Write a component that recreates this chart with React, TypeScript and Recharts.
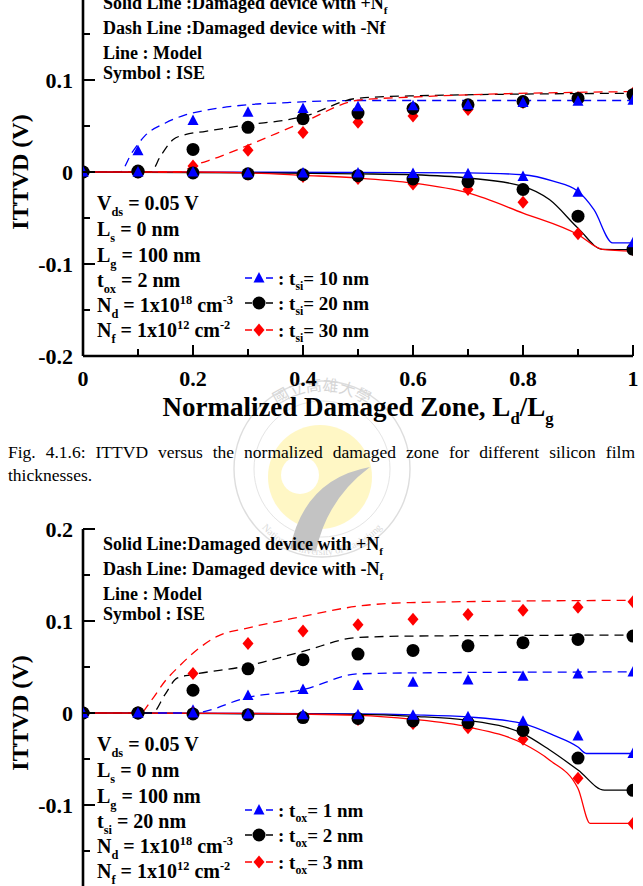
import React from 'react';
import { ComposedChart, Line, Scatter, XAxis, YAxis } from 'recharts';

const FONT = "'Liberation Serif', 'Times New Roman', Times, serif";
const BLUE = '#0000ff';
const RED = '#ff0000';
const BLACK = '#000000';

// normalized damaged zone Ld/Lg where the ISE points were taken
const ZONE = [0, 0.1, 0.2, 0.3, 0.4, 0.5, 0.6, 0.7, 0.8, 0.9, 1];
const X_TICKS = [0, 0.1, 0.2, 0.3, 0.4, 0.5, 0.6, 0.7, 0.8, 0.9, 1];
const Y_TICKS = [-0.2, -0.15, -0.1, -0.05, 0, 0.05, 0.1, 0.15, 0.2];

type Pt = [number, number];

// ---- silicon film thickness (tsi = 10 / 20 / 30 nm) ----
const TSI_LABELS = ['10', '20', '30'];

const TSI10_NEG_ISE = [0, 0.023, 0.056, 0.065, 0.069, 0.071, 0.072, 0.073, 0.0755, 0.077, 0.078];
const TSI20_NEG_ISE = [0, 0.001, 0.0245, 0.0486, 0.058, 0.064, 0.069, 0.073, 0.0766, 0.08, 0.084];
const TSI30_NEG_ISE = [0, 0, 0.0065, 0.0237, 0.043, 0.054, 0.061, 0.068, 0.0755, 0.081, 0.0856];

const TSI10_POS_ISE = [0, 0, 0, -0.001, -0.001, -0.001, -0.0015, -0.002, -0.005, -0.022, -0.077];
const TSI20_POS_ISE = [0, 0, -0.001, -0.002, -0.003, -0.004, -0.0076, -0.0105, -0.019, -0.048, -0.084];
const TSI30_POS_ISE = [0, 0, 0, -0.0025, -0.005, -0.007, -0.013, -0.019, -0.033, -0.067, -0.0845];

const TSI10_NEG_MODEL: Pt[] = [[0, 0], [0.067, 0], [0.089, 0.021], [0.112, 0.039], [0.149, 0.053], [0.186, 0.062], [0.223, 0.067], [0.297, 0.073], [0.372, 0.0755], [0.446, 0.0773], [0.5, 0.0777], [1, 0.0777]];
const TSI20_NEG_MODEL: Pt[] = [[0, 0], [0.123, 0], [0.141, 0.0173], [0.164, 0.0353], [0.186, 0.0406], [0.223, 0.0442], [0.3, 0.0514], [0.372, 0.0568], [0.401, 0.0604], [0.498, 0.08], [0.595, 0.0827], [1, 0.0856]];
const TSI30_NEG_MODEL: Pt[] = [[0, 0], [0.175, 0], [0.2, 0.0065], [0.25, 0.017], [0.3, 0.029], [0.4, 0.054], [0.5, 0.078], [0.6, 0.0815], [1, 0.0874]];

const TSI10_POS_MODEL: Pt[] = [[0, 0], [0.5, -0.0005], [0.7, -0.001], [0.8, -0.003], [0.855, -0.01], [0.9, -0.021], [0.929, -0.041], [0.963, -0.077], [1, -0.077]];
const TSI20_POS_MODEL: Pt[] = [[0, 0], [0.3, -0.001], [0.5, -0.002], [0.6, -0.003], [0.7, -0.0065], [0.8, -0.0156], [0.848, -0.03], [0.9, -0.061], [0.944, -0.084], [1, -0.0844]];
const TSI30_POS_MODEL: Pt[] = [[0, 0], [0.2, 0], [0.3, -0.001], [0.4, -0.0036], [0.5, -0.0065], [0.6, -0.012], [0.7, -0.0228], [0.8, -0.0446], [0.9, -0.068], [0.944, -0.084], [1, -0.086]];

// ---- oxide thickness (tox = 1 / 2 / 3 nm) ----
const TOX_LABELS = ['1', '2', '3'];

const TOX1_NEG_ISE = [0, 0, 0.003, 0.019, 0.0255, 0.03, 0.0335, 0.036, 0.04, 0.0425, 0.0447];
const TOX2_NEG_ISE = [0, 0, 0.0247, 0.048, 0.058, 0.064, 0.068, 0.073, 0.0764, 0.08, 0.0836];
const TOX3_NEG_ISE = [0, 0, 0.043, 0.0756, 0.089, 0.096, 0.102, 0.107, 0.1116, 0.115, 0.121];

const TOX1_POS_ISE = [0, 0, 0, -0.001, -0.002, -0.002, -0.0025, -0.004, -0.009, -0.025, -0.044];
const TOX2_POS_ISE = [0, 0, -0.001, -0.002, -0.005, -0.006, -0.0087, -0.0105, -0.019, -0.049, -0.084];
const TOX3_POS_ISE = [0, 0, 0, -0.002, -0.004, -0.007, -0.0115, -0.016, -0.0285, -0.071, -0.12];

const TOX1_NEG_MODEL: Pt[] = [[0, 0], [0.2, 0], [0.3, 0.017], [0.4, 0.0255], [0.5, 0.0425], [0.6, 0.0436], [1, 0.0447]];
const TOX2_NEG_MODEL: Pt[] = [[0, 0], [0.126, 0], [0.149, 0.02], [0.171, 0.038], [0.2, 0.0418], [0.297, 0.051], [0.4, 0.067], [0.498, 0.082], [0.595, 0.0836], [1, 0.0847]];
const TOX3_NEG_MODEL: Pt[] = [[0, 0], [0.104, 0], [0.123, 0.0127], [0.149, 0.0345], [0.178, 0.0527], [0.208, 0.069], [0.245, 0.0836], [0.297, 0.092], [0.4, 0.105], [0.498, 0.116], [0.595, 0.12], [1, 0.1225]];

const TOX1_POS_MODEL: Pt[] = [[0, 0], [0.5, -0.001], [0.6, -0.002], [0.7, -0.0043], [0.8, -0.0116], [0.855, -0.024], [0.9, -0.037], [0.915, -0.044], [1, -0.044]];
const TOX2_POS_MODEL: Pt[] = [[0, 0], [0.5, -0.0015], [0.6, -0.0036], [0.7, -0.008], [0.8, -0.0224], [0.848, -0.04], [0.9, -0.062], [0.948, -0.0838], [1, -0.0838]];
const TOX3_POS_MODEL: Pt[] = [[0, 0], [0.3, -0.0005], [0.5, -0.0025], [0.6, -0.0069], [0.7, -0.0152], [0.8, -0.0332], [0.848, -0.051], [0.9, -0.082], [0.922, -0.12], [1, -0.12]];

type MarkerKind = 'triangle' | 'circle' | 'diamond';

interface Series {
  color: string;
  marker: MarkerKind;
  negIse: number[];
  posIse: number[];
  negModel: Pt[];
  posModel: Pt[];
}

const TSI_SERIES: Series[] = [
  { color: BLUE, marker: 'triangle', negIse: TSI10_NEG_ISE, posIse: TSI10_POS_ISE, negModel: TSI10_NEG_MODEL, posModel: TSI10_POS_MODEL },
  { color: BLACK, marker: 'circle', negIse: TSI20_NEG_ISE, posIse: TSI20_POS_ISE, negModel: TSI20_NEG_MODEL, posModel: TSI20_POS_MODEL },
  { color: RED, marker: 'diamond', negIse: TSI30_NEG_ISE, posIse: TSI30_POS_ISE, negModel: TSI30_NEG_MODEL, posModel: TSI30_POS_MODEL },
];

const TOX_SERIES: Series[] = [
  { color: BLUE, marker: 'triangle', negIse: TOX1_NEG_ISE, posIse: TOX1_POS_ISE, negModel: TOX1_NEG_MODEL, posModel: TOX1_POS_MODEL },
  { color: BLACK, marker: 'circle', negIse: TOX2_NEG_ISE, posIse: TOX2_POS_ISE, negModel: TOX2_NEG_MODEL, posModel: TOX2_POS_MODEL },
  { color: RED, marker: 'diamond', negIse: TOX3_NEG_ISE, posIse: TOX3_POS_ISE, negModel: TOX3_NEG_MODEL, posModel: TOX3_POS_MODEL },
];

// plot geometry (page pixels)
const PAGE_W = 643;
const PAGE_H = 886;
const Y_AXIS_W = 83;
const RIGHT_GAP = 10;
const PLOT_H = 368;
const M_TOP = 20;
const X_AXIS_H = 40;
const CHART_H = M_TOP + PLOT_H + X_AXIS_H;
const TOP_PLOT_Y = -12;
const BOTTOM_PLOT_Y = 529;

const AXIS_LINE = { stroke: BLACK, strokeWidth: 2.6 };

const toPoints = (xs: number[], ys: number[]) => xs.map((x, i) => ({ x, y: ys[i] }));
const fromPairs = (pts: Pt[]) => pts.map(([x, y]) => ({ x, y }));

const isStep = (v: number, step: number) => Math.abs(v / step - Math.round(v / step)) < 1e-6;
const fmt = (v: number) => (Math.abs(v) < 1e-9 ? '0' : isStep(v, 1) ? String(Math.round(v)) : v.toFixed(1));

const tickText = { fontFamily: FONT, fontWeight: 700, fontSize: 22, fill: BLACK } as const;

const renderXTick = (props: any) => {
  const { x, y, payload } = props;
  const v = payload.value as number;
  const major = isStep(v, 0.2);
  return (
    <g>
      <line x1={x} x2={x} y1={y} y2={y - (major ? 11 : 7)} stroke={BLACK} strokeWidth={2} />
      {major && (
        <text x={x} y={y + 30} textAnchor="middle" {...tickText}>
          {fmt(v)}
        </text>
      )}
    </g>
  );
};

const renderYTick = (props: any) => {
  const { x, y, payload } = props;
  const v = payload.value as number;
  const major = isStep(v, 0.1);
  return (
    <g>
      <line x1={x} x2={x + (major ? 12 : 7)} y1={y} y2={y} stroke={BLACK} strokeWidth={2} />
      {major && (
        <text x={x - 10} y={y + 7.5} textAnchor="end" {...tickText}>
          {fmt(v)}
        </text>
      )}
    </g>
  );
};

function Marker({ kind, cx, cy, color }: { kind: MarkerKind; cx: number; cy: number; color: string }) {
  if (kind === 'triangle') {
    return <polygon points={`${cx},${cy - 6} ${cx - 5.5},${cy + 4.5} ${cx + 5.5},${cy + 4.5}`} fill={color} />;
  }
  if (kind === 'diamond') {
    return <polygon points={`${cx},${cy - 6.5} ${cx + 5.5},${cy} ${cx},${cy + 6.5} ${cx - 5.5},${cy}`} fill={color} />;
  }
  return <circle cx={cx} cy={cy} r={6.5} fill={color} />;
}

function DamageChart({ series }: { series: Series[] }) {
  // symbols are stacked red, black, blue (blue on top)
  const stacked = [...series].reverse();
  return (
    <ComposedChart width={PAGE_W} height={CHART_H} margin={{ top: M_TOP, right: RIGHT_GAP, bottom: 0, left: 0 }}>
      <XAxis
        type="number"
        dataKey="x"
        domain={[0, 1]}
        ticks={X_TICKS}
        interval={0}
        allowDataOverflow
        height={X_AXIS_H}
        tickSize={0}
        tickMargin={0}
        tickLine={false}
        tick={renderXTick}
        axisLine={AXIS_LINE}
      />
      <XAxis xAxisId="frame" orientation="top" type="number" domain={[0, 1]} height={0} tick={false} tickLine={false} axisLine={AXIS_LINE} />
      <YAxis
        type="number"
        dataKey="y"
        domain={[-0.2, 0.2]}
        ticks={Y_TICKS}
        interval={0}
        allowDataOverflow
        width={Y_AXIS_W}
        tickSize={0}
        tickMargin={0}
        tickLine={false}
        tick={renderYTick}
        axisLine={AXIS_LINE}
      />
      <YAxis yAxisId="frame" orientation="right" type="number" domain={[-0.2, 0.2]} width={0} tick={false} tickLine={false} axisLine={AXIS_LINE} />

      {series.map((s, i) => (
        <Line
          key={`pos-${i}`}
          data={fromPairs(s.posModel)}
          dataKey="y"
          type="monotone"
          stroke={s.color}
          strokeWidth={1.3}
          dot={false}
          activeDot={false}
          isAnimationActive={false}
        />
      ))}
      {series.map((s, i) => (
        <Line
          key={`neg-${i}`}
          data={fromPairs(s.negModel)}
          dataKey="y"
          type="monotone"
          stroke={s.color}
          strokeWidth={1.3}
          strokeDasharray="9 6"
          dot={false}
          activeDot={false}
          isAnimationActive={false}
        />
      ))}
      {stacked.map((s, i) => (
        <Scatter
          key={`ise-neg-${i}`}
          data={toPoints(ZONE, s.negIse)}
          dataKey="y"
          isAnimationActive={false}
          shape={(p: any) => <Marker kind={s.marker} cx={p.cx} cy={p.cy} color={s.color} />}
        />
      ))}
      {stacked.map((s, i) => (
        <Scatter
          key={`ise-pos-${i}`}
          data={toPoints(ZONE, s.posIse)}
          dataKey="y"
          isAnimationActive={false}
          shape={(p: any) => <Marker kind={s.marker} cx={p.cx} cy={p.cy} color={s.color} />}
        />
      ))}
    </ComposedChart>
  );
}

type Part = string | { sub: string } | { sup: string };

function Rich({ x, y, size, parts, anchor = 'start' }: { x: number; y: number; size: number; parts: Part[]; anchor?: 'start' | 'middle' | 'end' }) {
  let shift = 0;
  const spans = parts.map((p, i) => {
    if (typeof p === 'string') {
      const dy = -shift;
      shift = 0;
      return (
        <tspan key={i} dy={dy} fontSize={size}>
          {p}
        </tspan>
      );
    }
    const target = 'sub' in p ? size * 0.3 : -size * 0.42;
    const dy = target - shift;
    shift = target;
    return (
      <tspan key={i} dy={dy} fontSize={size * 0.62}>
        {'sub' in p ? p.sub : p.sup}
      </tspan>
    );
  });
  return (
    <text x={x} y={y} textAnchor={anchor} fontFamily={FONT} fontWeight={700} fill={BLACK} style={{ whiteSpace: 'pre' }}>
      {spans}
    </text>
  );
}

function Notes({ top, solid, dash }: { top: number; solid: Part[]; dash: Part[] }) {
  const x = 103;
  return (
    <g>
      <Rich x={x} y={top + 21} size={18} parts={solid} />
      <Rich x={x} y={top + 46} size={18} parts={dash} />
      <Rich x={x} y={top + 71} size={18} parts={['Line : Model']} />
      <Rich x={x} y={top + 91} size={18} parts={['Symbol : ISE']} />
    </g>
  );
}

function Params({ top, thickness }: { top: number; thickness: Part[] }) {
  const x = 97;
  const rows: Part[][] = [
    ['V', { sub: 'ds' }, ' = 0.05 V'],
    ['L', { sub: 's' }, ' = 0 nm'],
    ['L', { sub: 'g' }, ' = 100 nm'],
    thickness,
    ['N', { sub: 'd' }, ' = 1x10', { sup: '18' }, ' cm', { sup: '-3' }],
    ['N', { sub: 'f' }, ' = 1x10', { sup: '12' }, ' cm', { sup: '-2' }],
  ];
  const offs = [222, 248, 274, 299, 324, 349];
  return (
    <g>
      {rows.map((r, i) => (
        <Rich key={i} x={x} y={top + offs[i]} size={20} parts={r} />
      ))}
    </g>
  );
}

function Legend({ top, series, sym, labels }: { top: number; series: Series[]; sym: string; labels: string[] }) {
  const rows = [top + 290, top + 315, top + 342];
  return (
    <g>
      {series.map((s, i) => {
        const cy = rows[i];
        return (
          <g key={i}>
            <line x1={245} x2={252} y1={cy} y2={cy} stroke={s.color} strokeWidth={1.5} />
            <Marker kind={s.marker} cx={259} cy={cy} color={s.color} />
            <line x1={266} x2={273} y1={cy} y2={cy} stroke={s.color} strokeWidth={1.5} />
            <Rich x={278} y={cy + 6.5} size={19} parts={[': t', { sub: sym }, `= ${labels[i]} nm`]} />
          </g>
        );
      })}
    </g>
  );
}

function YTitle({ cy }: { cy: number }) {
  return (
    <text
      transform={`translate(28 ${cy}) rotate(-90)`}
      textAnchor="middle"
      fontFamily={FONT}
      fontWeight={700}
      fontSize={24}
      fill={BLACK}
    >
      ITTVD (V)
    </text>
  );
}

function Seal() {
  const cx = 322;
  const cy = 469;
  return (
    <svg width={PAGE_W} height={PAGE_H} style={{ position: 'absolute', left: 0, top: 0 }}>
      <defs>
        <path id="seal-top" d={`M ${cx - 78} ${cy} A 78 78 0 0 1 ${cx + 78} ${cy}`} />
        <path id="seal-bottom" d={`M ${cx - 80} ${cy + 6} A 80 80 0 0 0 ${cx + 80} ${cy + 6}`} />
      </defs>
      <g opacity={0.6}>
        <circle cx={cx} cy={cy} r={88} fill="none" stroke="#c8c8c8" strokeWidth={1.4} />
        <circle cx={cx} cy={cy} r={68} fill="none" stroke="#d4d4d4" strokeWidth={1} />
        <circle cx={cx - 2} cy={cy + 8} r={52} fill="#fff3a0" />
        <circle cx={cx - 22} cy={cy + 6} r={19} fill="#ffffff" />
        <path d={`M ${cx - 32} ${cy + 80} Q ${cx - 18} ${cy + 10} ${cx + 48} ${cy - 2} Q ${cx + 5} ${cy + 30} ${cx - 6} ${cy + 82} Z`} fill="#9c9c9c" />
        <text fontFamily="'Noto Sans CJK TC', sans-serif" fontSize={16} fill="#bcbcbc">
          <textPath href="#seal-top" startOffset="50%" textAnchor="middle">
            國立高雄大學
          </textPath>
        </text>
        <text fontFamily={FONT} fontSize={10} fill="#c4c4c4">
          <textPath href="#seal-bottom" startOffset="50%" textAnchor="middle">
            National University of Kaohsiung
          </textPath>
        </text>
      </g>
    </svg>
  );
}

export default function App() {
  return (
    <div style={{ position: 'absolute', left: 0, top: 0, width: PAGE_W, height: PAGE_H, overflow: 'hidden', background: '#fff' }}>
      <Seal />
      <div style={{ position: 'absolute', left: 0, top: TOP_PLOT_Y - M_TOP }}>
        <DamageChart series={TSI_SERIES} />
      </div>
      <div style={{ position: 'absolute', left: 0, top: BOTTOM_PLOT_Y - M_TOP }}>
        <DamageChart series={TOX_SERIES} />
      </div>

      <svg width={PAGE_W} height={PAGE_H} style={{ position: 'absolute', left: 0, top: 0, pointerEvents: 'none' }}>
        <Notes
          top={TOP_PLOT_Y}
          solid={['Solid Line :Damaged device with +N', { sub: 'f' }]}
          dash={['Dash Line :Damaged device with -Nf']}
        />
        <Params top={TOP_PLOT_Y} thickness={['t', { sub: 'ox' }, ' = 2 nm']} />
        <Legend top={TOP_PLOT_Y} series={TSI_SERIES} sym="si" labels={TSI_LABELS} />
        <YTitle cy={TOP_PLOT_Y + PLOT_H / 2} />
        <Rich
          x={Y_AXIS_W + (PAGE_W - RIGHT_GAP - Y_AXIS_W) / 2}
          y={416}
          size={27}
          anchor="middle"
          parts={['Normalized Damaged Zone, L', { sub: 'd' }, '/L', { sub: 'g' }]}
        />

        <Notes
          top={BOTTOM_PLOT_Y}
          solid={['Solid Line:Damaged device with +N', { sub: 'f' }]}
          dash={['Dash Line: Damaged device with -N', { sub: 'f' }]}
        />
        <Params top={BOTTOM_PLOT_Y} thickness={['t', { sub: 'si' }, ' = 20 nm']} />
        <Legend top={BOTTOM_PLOT_Y - 9} series={TOX_SERIES} sym="ox" labels={TOX_LABELS} />
        <YTitle cy={BOTTOM_PLOT_Y + PLOT_H / 2} />
      </svg>

      <div
        style={{
          position: 'absolute',
          left: 8,
          top: 441,
          width: 627,
          fontFamily: FONT,
          fontSize: 17.5,
          lineHeight: '23px',
          textAlign: 'justify',
          color: BLACK,
        }}
      >
        Fig. 4.1.6: ITTVD versus the normalized damaged zone for different silicon film thicknesses.
      </div>
    </div>
  );
}
